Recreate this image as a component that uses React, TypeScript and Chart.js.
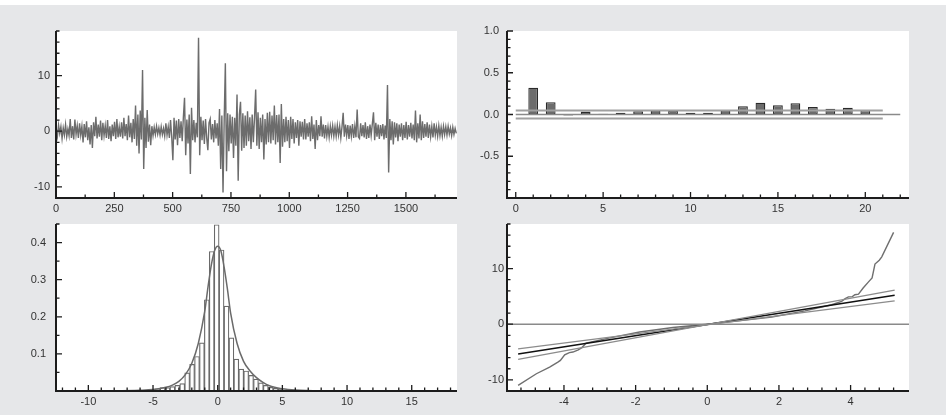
import React, { useEffect, useRef } from 'react';
import { Chart, registerables } from 'chart.js';

Chart.register(...registerables);

const FONT = "'Liberation Sans', Arial, Helvetica, sans-serif";

// ---------- Panel 1: time series (one value every 5 observations) ----------
const seriesStep = 5;
const seriesValues = [
  0.5, -0.9, 1.1, -0.4, 0.8, -1.3, 0.6, -0.7, 1.2, -1.0, 0.4, -0.8, 2.2, -1.2, 0.9, -1.5, 2.1, -0.6, 1.0, -1.2,
  1.4, -0.7, 0.9, -2.0, 1.3, -1.1, 1.8, -1.6, 0.7, -2.4, 1.1, -3.0, 1.6, -0.9, 2.6, -1.3, 1.2, -1.0, 1.9, -1.6,
  1.5, -0.8, 1.0, -1.2, 2.0, -1.4, 0.9, -1.8, 1.2, -0.9, 1.7, -1.4, 2.2, -1.1, 0.8, -1.0, 1.6, -1.3, 2.4, -0.9,
  1.3, -1.6, 2.8, -1.1, 1.5, -2.0, 2.2, -1.4, 4.6, -2.6, 3.0, -4.0, 3.7, -1.5, 11.0, -6.8, 2.4, -3.0, 3.8, -1.9,
  1.2, -2.5, 0.9, -0.8, 0.7, -0.6, 0.9, -0.5, 0.6, -0.7, 0.8, -0.6, 0.5, -0.9, 1.4, -0.7, 0.8, -1.2, 2.0, -1.0,
  -5.2, 2.4, -1.5, 1.9, -2.5, 2.2, -1.2, 1.8, -1.8, 2.5, 6.0, -4.3, 2.1, -2.2, 3.0, -7.7, 4.2, -1.6, 2.0, -2.0,
  1.5, -1.1, 16.8, -4.3, 2.6, -1.6, 1.9, -2.3, 2.2, -1.2, -3.4, 1.5, 2.2, -1.5, 1.3, -2.0, 2.0, -1.3, 1.4, -2.6,
  4.0, -6.8, 2.8, -11.0, 2.0, 12.2, -7.2, 3.2, -3.6, 3.0, -2.2, 2.6, -4.8, 2.4, -2.6, 6.6, -8.9, 3.0, 5.3, -3.5,
  3.2, -3.0, 2.8, -2.6, 3.6, -1.8, 2.5, -3.2, 3.0, -2.0, 2.4, 7.5, -2.6, 3.4, -3.2, 2.4, -2.0, 3.0, -5.1, 2.2,
  -2.4, 3.3, -2.0, 3.5, -2.2, 2.8, -1.6, 4.6, -2.4, 2.9, -2.0, 3.0, -5.7, 4.9, -2.8, 2.2, -2.0, 2.6, -1.8, 2.0,
  -3.0, 2.6, -1.4, 2.2, -2.2, 1.6, -1.2, 2.0, -2.6, 1.8, -1.0, 1.7, -1.5, 2.2, -1.5, 1.4, -1.0, 1.6, -1.8, 2.7,
  -1.4, 1.2, -3.2, 2.0, -1.6, 1.1, -0.9, 2.7, -1.0, 1.2, -1.3, 1.1, -0.9, 0.8, -1.1, 0.9, -0.7, 1.0, -0.9, 0.8,
  -0.9, 1.1, -0.7, 0.9, -1.2, 0.8, 3.3, -1.0, 1.2, -0.8, 1.1, -1.4, 1.0, -0.9, 1.3, -1.2, 0.9, -1.1, 3.9, -1.0,
  -1.3, 1.4, -0.9, 1.1, -1.1, 1.6, -1.4, 0.9, -1.2, 1.2, -0.8, 1.3, 3.4, -1.6, 1.5, -1.0, 1.2, -1.4, 1.1, -0.9,
  1.3, -1.5, 1.0, -1.2, 8.3, -7.4, 2.2, -1.6, 1.8, -2.4, 1.6, -1.1, 1.4, -1.8, 1.2, -1.0, 1.4, -1.6, 1.1, -1.2,
  1.7, -1.5, 1.1, -1.0, 1.5, -1.3, 1.2, -1.6, 3.7, -2.0, 1.4, -1.3, 3.0, -1.6, 1.8, -1.2, 1.3, -1.0, 1.6, -1.2,
  1.2, -1.0, 0.9, -1.1, 1.4, -0.7, 0.8, -0.9, 1.0, -0.8, 0.7, -0.9, 0.9, -0.6, 0.8, -0.7, 0.9, -0.5, 0.6, -0.8,
  0.7, -0.6, 0.5, -0.4,
];

// ---------- Panel 2: autocorrelations ----------
const acfLags = [1, 2, 3, 4, 5, 6, 7, 8, 9, 10, 11, 12, 13, 14, 15, 16, 17, 18, 19, 20];
const acfValues = [0.32, 0.147, -0.012, 0.035, 0.01, 0.02, 0.04, 0.05, 0.05, 0.02, 0.02, 0.05, 0.1, 0.14, 0.11, 0.135, 0.09, 0.07, 0.08, 0.055];
const acfBand = 0.0473;
const acfBandEnd = 21;

// ---------- Panel 3: histogram + density ----------
const histCenters = [-5.4, -5.02, -4.64, -4.26, -3.88, -3.5, -3.12, -2.74, -2.36, -1.98, -1.6, -1.22, -0.84, -0.46, -0.08, 0.3, 0.68, 1.06, 1.44, 1.82, 2.2, 2.58, 2.96, 3.34, 3.72, 4.1, 4.48, 4.86, 5.24, 5.62];
const histDensity = [0.002, 0.004, 0.006, 0.009, 0.009, 0.012, 0.015, 0.02, 0.049, 0.072, 0.093, 0.13, 0.246, 0.376, 0.448, 0.38, 0.229, 0.143, 0.086, 0.059, 0.054, 0.042, 0.032, 0.022, 0.015, 0.01, 0.007, 0.005, 0.003, 0.002];
const densityX = [-12, -8, -6, -5, -4, -3.5, -3, -2.5, -2, -1.5, -1, -0.75, -0.5, -0.25, 0, 0.25, 0.5, 0.75, 1, 1.5, 2, 2.5, 3, 3.5, 4, 5, 6, 8, 12, 18];
const densityY = [0, 0.0005, 0.002, 0.004, 0.01, 0.016, 0.026, 0.044, 0.075, 0.128, 0.215, 0.28, 0.338, 0.377, 0.39, 0.377, 0.333, 0.275, 0.21, 0.128, 0.08, 0.054, 0.036, 0.023, 0.014, 0.006, 0.0025, 0.0005, 0, 0];

// ---------- Panel 4: quantile plot ----------
const qqX = [-5.28, -4.77, -4.4, -4.17, -4.1, -3.98, -3.85, -3.75, -3.6, -3.5, -3.38, -2.82, -1.89, -0.96, 0, 0.87, 1.8, 2.73, 3.47, 3.75, 3.85, 3.94, 4.05, 4.12, 4.22, 4.35, 4.5, 4.6, 4.68, 4.8, 4.87, 5.2];
const qqY = [-11.0, -8.9, -7.7, -6.8, -6.5, -5.5, -5.1, -5.0, -4.6, -4.2, -3.4, -2.6, -1.4, -0.6, 0, 0.6, 1.3, 2.4, 3.5, 4.1, 4.6, 4.9, 4.95, 5.3, 5.4, 6.5, 7.6, 8.3, 10.8, 11.5, 12.1, 16.5];
const refX = [-5.28, 5.23];
const refMidY = [-5.35, 5.2];
const refUpY = [-6.3, 6.13];
const refLowY = [-4.44, 4.2];

// ---------- helpers ----------
const isMajor = (v: number, step: number) => Math.abs(v / step - Math.round(v / step)) < 1e-6;

function makeTicks(min: number, max: number, step: number) {
  const arr: { value: number }[] = [];
  const start = Math.ceil(min / step - 1e-9);
  for (let k = start; k * step <= max + 1e-9; k++) arr.push({ value: +(k * step).toFixed(6) });
  return arr;
}

function axis(opts: {
  pos: 'left' | 'bottom'; min: number; max: number; tMin: number; tMax: number; step: number;
  major: number; fmt: (v: number) => string; hide?: number[]; pad: number; size: number;
}) {
  const hide = opts.hide || [];
  return {
    type: 'linear',
    position: opts.pos,
    min: opts.min,
    max: opts.max,
    grid: { display: false, drawTicks: false },
    border: { display: false },
    afterBuildTicks: (s: any) => { s.ticks = makeTicks(opts.tMin, opts.tMax, opts.step); },
    afterFit: (s: any) => { if (opts.pos === 'left') s.width = opts.size; else s.height = opts.size; },
    ticks: {
      autoSkip: false,
      maxRotation: 0,
      minRotation: 0,
      padding: opts.pad,
      color: '#333',
      font: { size: 11, family: FONT },
      callback: (v: any) => {
        const n = Number(v);
        if (!isMajor(n, opts.major)) return '';
        if (hide.some((h) => Math.abs(h - n) < 1e-9)) return '';
        return opts.fmt(n);
      },
    },
  };
}

function framePlugin(xMajor: number, yMajor: number) {
  return {
    id: 'frame',
    beforeDraw(chart: any) {
      const { ctx, chartArea: a } = chart;
      ctx.save();
      ctx.fillStyle = '#ffffff';
      ctx.fillRect(a.left, a.top, a.right - a.left, a.bottom - a.top);
      ctx.restore();
    },
    afterDatasetsDraw(chart: any) {
      const { ctx, chartArea: a, scales } = chart;
      const xs = scales.x, ys = scales.y;
      ctx.save();
      ctx.strokeStyle = '#1c1c1c';
      ctx.lineWidth = 1.3;
      ctx.beginPath();
      for (const t of xs.ticks) {
        const px = xs.getPixelForValue(t.value);
        const len = isMajor(t.value, xMajor) ? 6 : 3.5;
        ctx.moveTo(px, a.bottom);
        ctx.lineTo(px, a.bottom - len);
      }
      for (const t of ys.ticks) {
        const py = ys.getPixelForValue(t.value);
        const len = isMajor(t.value, yMajor) ? 6 : 3.5;
        ctx.moveTo(a.left, py);
        ctx.lineTo(a.left + len, py);
      }
      ctx.stroke();
      ctx.lineWidth = 2;
      ctx.beginPath();
      ctx.moveTo(a.left, a.top);
      ctx.lineTo(a.left, a.bottom);
      ctx.lineTo(a.right, a.bottom);
      ctx.stroke();
      ctx.restore();
    },
  };
}

type Area = { l: number; t: number; r: number; b: number };
const PAGE_W = 946;
const PAGE_H = 415;
const Y_W = 50;
const X_H = 20;

function padFor(a: Area) {
  return { left: a.l - Y_W, top: a.t, right: PAGE_W - a.r, bottom: PAGE_H - a.b - X_H };
}

const lineDs = (xs: number[], ys: number[], color: string, width: number, extra: any = {}) => ({
  type: 'line',
  data: xs.map((x, i) => ({ x, y: ys[i] })),
  borderColor: color,
  borderWidth: width,
  pointRadius: 0,
  fill: false,
  tension: 0,
  ...extra,
});

function buildConfigs(): any[] {
  const fmt0 = (v: number) => String(Math.round(v));
  const fmt1 = (v: number) => v.toFixed(1);

  // Panel 1
  const a1: Area = { l: 56, t: 31, r: 457, b: 198 };
  const p1 = {
    type: 'line',
    data: {
      datasets: [
        lineDs(seriesValues.map((_, i) => i * seriesStep + 1), seriesValues, '#6c6c6c', 1.4),
      ],
    },
    options: {
      animation: false, responsive: false, maintainAspectRatio: false,
      layout: { padding: padFor(a1) },
      plugins: { legend: { display: false }, tooltip: { enabled: false } },
      scales: {
        x: axis({ pos: 'bottom', min: 0, max: 1719, tMin: 0, tMax: 1719, step: 125, major: 250, fmt: fmt0, pad: 4, size: X_H }),
        y: axis({ pos: 'left', min: -12, max: 18, tMin: -12, tMax: 18, step: 2, major: 10, fmt: fmt0, pad: 6, size: Y_W }),
      },
    },
    plugins: [framePlugin(250, 10)],
  };

  // Panel 2
  const a2: Area = { l: 507, t: 31, r: 909, b: 198 };
  const p2 = {
    type: 'bar',
    data: {
      datasets: [
        {
          type: 'bar',
          data: acfLags.map((x, i) => ({ x, y: acfValues[i] })),
          backgroundColor: '#6c6c6c',
          borderColor: '#2a2a2a',
          borderWidth: 1.3,
          borderSkipped: false,
          barPercentage: 0.56,
          categoryPercentage: 1,
          order: 3,
        },
        lineDs([0, 22], [0, 0], '#8a8a8a', 1.4, { order: 1 }),
        lineDs([0, acfBandEnd], [acfBand, acfBand], '#a0a0a0', 2, { order: 2 }),
        lineDs([0, acfBandEnd], [-acfBand, -acfBand], '#a0a0a0', 2, { order: 2 }),
      ],
    },
    options: {
      animation: false, responsive: false, maintainAspectRatio: false,
      layout: { padding: padFor(a2) },
      plugins: { legend: { display: false }, tooltip: { enabled: false } },
      scales: {
        x: axis({ pos: 'bottom', min: 0, max: 22, tMin: 0, tMax: 22, step: 1, major: 5, fmt: fmt0, pad: 4, size: X_H }),
        y: axis({ pos: 'left', min: -1, max: 1, tMin: -1, tMax: 1, step: 0.1, major: 0.5, fmt: fmt1, hide: [-1], pad: 8, size: Y_W }),
      },
    },
    plugins: [framePlugin(5, 0.5)],
  };

  // Panel 3
  const a3: Area = { l: 56, t: 224, r: 457, b: 391 };
  const p3 = {
    type: 'bar',
    data: {
      datasets: [
        {
          type: 'bar',
          data: histCenters.map((x, i) => ({ x, y: histDensity[i] })),
          backgroundColor: '#ffffff',
          borderColor: '#6a6a6a',
          borderWidth: 1.2,
          borderSkipped: 'start',
          barPercentage: 1,
          categoryPercentage: 1,
          order: 2,
        },
        lineDs(densityX, densityY, '#6a6a6a', 1.5, { order: 1, cubicInterpolationMode: 'monotone' }),
      ],
    },
    options: {
      animation: false, responsive: false, maintainAspectRatio: false,
      layout: { padding: padFor(a3) },
      plugins: { legend: { display: false }, tooltip: { enabled: false } },
      scales: {
        x: axis({ pos: 'bottom', min: -12, max: 18, tMin: -12, tMax: 18, step: 1, major: 5, fmt: fmt0, pad: 4, size: X_H }),
        y: axis({ pos: 'left', min: 0, max: 0.45, tMin: 0, tMax: 0.45, step: 0.05, major: 0.1, fmt: fmt1, hide: [0], pad: 10, size: Y_W }),
      },
    },
    plugins: [framePlugin(5, 0.1)],
  };

  // Panel 4
  const a4: Area = { l: 507, t: 224, r: 909, b: 391 };
  const p4 = {
    type: 'line',
    data: {
      datasets: [
        lineDs([-5.59, 5.63], [0, 0], '#8a8a8a', 1.4),
        lineDs(refX, refUpY, '#8c8c8c', 1.3),
        lineDs(refX, refLowY, '#8c8c8c', 1.3),
        lineDs(refX, refMidY, '#111111', 1.5),
        lineDs(qqX, qqY, '#6f6f6f', 1.4),
      ],
    },
    options: {
      animation: false, responsive: false, maintainAspectRatio: false,
      layout: { padding: padFor(a4) },
      plugins: { legend: { display: false }, tooltip: { enabled: false } },
      scales: {
        x: axis({ pos: 'bottom', min: -5.59, max: 5.63, tMin: -5.2, tMax: 5.2, step: 0.4, major: 2, fmt: fmt0, pad: 4, size: X_H }),
        y: axis({ pos: 'left', min: -12, max: 18, tMin: -12, tMax: 18, step: 2, major: 10, fmt: fmt0, pad: 3, size: Y_W }),
      },
    },
    plugins: [framePlugin(2, 10)],
  };

  return [p1, p2, p3, p4];
}

export default function App() {
  const refs = [useRef<HTMLCanvasElement>(null), useRef<HTMLCanvasElement>(null), useRef<HTMLCanvasElement>(null), useRef<HTMLCanvasElement>(null)];

  useEffect(() => {
    const configs = buildConfigs();
    const charts: Chart[] = [];
    configs.forEach((cfg, i) => {
      const c = refs[i].current;
      if (c) charts.push(new Chart(c, cfg as any));
    });
    return () => charts.forEach((ch) => ch.destroy());
  }, []);

  return (
    <div style={{ position: 'fixed', left: 0, top: 0, width: PAGE_W, height: PAGE_H, background: '#e6e7e9', overflow: 'hidden' }}>
      <div style={{ position: 'absolute', left: 0, top: 0, width: PAGE_W, height: 5, background: '#ffffff' }} />
      {refs.map((r, i) => (
        <canvas key={i} ref={r} width={PAGE_W} height={PAGE_H} style={{ position: 'absolute', left: 0, top: 0, width: PAGE_W, height: PAGE_H }} />
      ))}
    </div>
  );
}
